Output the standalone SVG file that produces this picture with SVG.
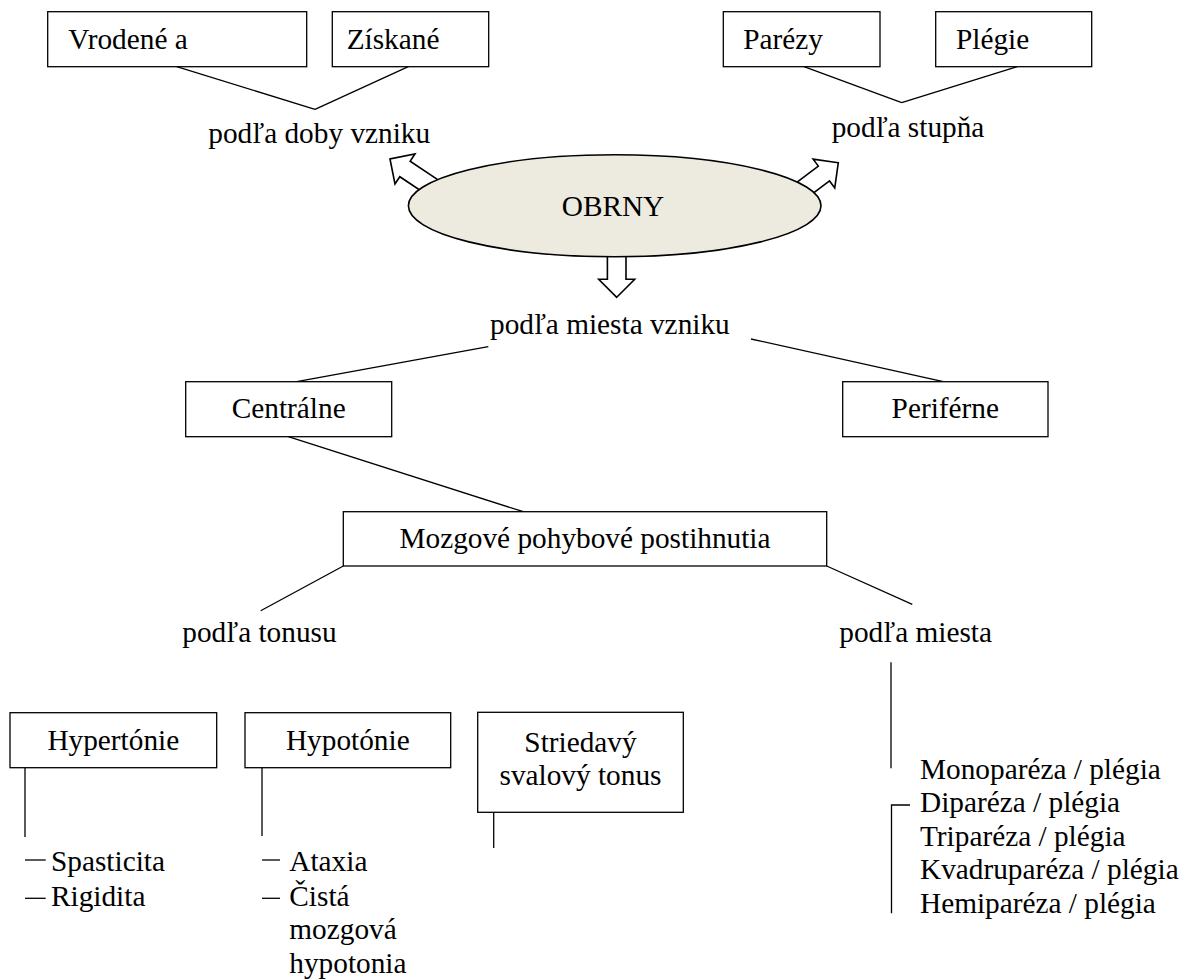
<svg xmlns="http://www.w3.org/2000/svg" xmlns:xlink="http://www.w3.org/1999/xlink" width="1182" height="979" viewBox="0 0 1182 979">
<style>
  text { font-family: "Liberation Serif", "Times New Roman", serif; font-size: 29.3px; fill: #000; }
  .c { text-anchor: middle; }
  .box { fill: #fff; stroke: #000; stroke-width: 1.3; }
  .ln { stroke: #000; stroke-width: 1.3; fill: none; }
  .arr { fill: #fff; stroke: #000; stroke-width: 1.6; stroke-linejoin: miter; }
  .ell { fill: #EDEBE0; stroke: #000; stroke-width: 1.6; }
</style>
<defs>
  <polygon id="blockArrow" points="0,0 -18,-18 -18,-9.3 -62,-9.3 -62,9.3 -18,9.3 -18,18"/>
</defs>
<rect width="1182" height="979" fill="#fff"/>

<g id="connectors">
  <use xlink:href="#blockArrow" class="arr" transform="translate(390,159) rotate(213.7)"/>
  <use xlink:href="#blockArrow" class="arr" transform="translate(838.3,162.7) rotate(-37)"/>
  <use xlink:href="#blockArrow" class="arr" transform="translate(616.7,297.3) rotate(90)"/>
  <line class="ln" x1="176.7" y1="66.7" x2="315" y2="109.3"/>
  <line class="ln" x1="408.3" y1="66.7" x2="315" y2="109.3"/>
  <line class="ln" x1="804" y1="66.7" x2="901.7" y2="102.7"/>
  <line class="ln" x1="1017.3" y1="66.7" x2="901.7" y2="102.7"/>
  <line class="ln" x1="296.7" y1="381.7" x2="488.3" y2="346.7"/>
  <line class="ln" x1="751" y1="339" x2="943.3" y2="381.7"/>
  <line class="ln" x1="288.3" y1="436.7" x2="523.3" y2="511.7"/>
  <line class="ln" x1="343.3" y1="566" x2="260.7" y2="610.7"/>
  <line class="ln" x1="826.7" y1="566" x2="912.3" y2="604.3"/>
  <line class="ln" x1="891" y1="662.3" x2="891" y2="768.3"/>
  <polyline class="ln" points="910,805 891.5,805 891.5,913.3"/>
  <line class="ln" x1="25" y1="767.7" x2="25" y2="837"/>
  <line class="ln" x1="25" y1="860" x2="45.7" y2="860"/>
  <line class="ln" x1="25" y1="898.3" x2="45.7" y2="898.3"/>
  <line class="ln" x1="262" y1="767.7" x2="262" y2="836"/>
  <line class="ln" x1="262" y1="860" x2="280" y2="860"/>
  <line class="ln" x1="262" y1="898.3" x2="280" y2="898.3"/>
  <line class="ln" x1="493.7" y1="812.3" x2="493.7" y2="848"/>
</g>

<g id="node-obrny">
  <ellipse class="ell" cx="614.7" cy="205.8" rx="206.3" ry="51"/>
  <text class="c" x="613" y="215.5">OBRNY</text>
</g>
<g id="node-vrodene">
  <rect class="box" x="47.7" y="11.7" width="259" height="55"/>
  <text x="68.3" y="49.3">Vrodené a</text>
</g>
<g id="node-ziskane">
  <rect class="box" x="332.3" y="11.7" width="156.4" height="55"/>
  <text x="346.7" y="49.3">Získané</text>
</g>
<g id="node-parezy">
  <rect class="box" x="723.3" y="11.7" width="156.7" height="55"/>
  <text x="743.3" y="49.3">Parézy</text>
</g>
<g id="node-plegie">
  <rect class="box" x="935.7" y="11.7" width="156" height="55"/>
  <text x="956" y="49.3">Plégie</text>
</g>
<g id="label-doby">
  <text x="208.3" y="142.7">podľa doby vzniku</text>
</g>
<g id="label-stupna">
  <text x="831.7" y="137.3">podľa stupňa</text>
</g>
<g id="label-miesta-vzniku">
  <text x="490" y="334.3">podľa miesta vzniku</text>
</g>
<g id="node-centralne">
  <rect class="box" x="185.7" y="381.7" width="206" height="55"/>
  <text class="c" x="288.7" y="418.3">Centrálne</text>
</g>
<g id="node-periferne">
  <rect class="box" x="842.7" y="381.7" width="205.3" height="55"/>
  <text class="c" x="945.3" y="418.3">Periférne</text>
</g>
<g id="node-mozgove">
  <rect class="box" x="343.3" y="511.7" width="483.4" height="54.3"/>
  <text class="c" x="585" y="548.3">Mozgové pohybové postihnutia</text>
</g>
<g id="label-tonusu">
  <text x="182.3" y="642.3">podľa tonusu</text>
</g>
<g id="label-miesta">
  <text x="839.3" y="642.3">podľa miesta</text>
</g>
<g id="node-hypertonie">
  <rect class="box" x="10" y="712.7" width="206.7" height="55"/>
  <text class="c" x="113.3" y="750">Hypertónie</text>
</g>
<g id="node-hypotonie">
  <rect class="box" x="245" y="712.7" width="205.7" height="55"/>
  <text class="c" x="347.8" y="750">Hypotónie</text>
</g>
<g id="node-striedavy">
  <rect class="box" x="477.7" y="712.3" width="205.6" height="100"/>
  <text class="c" x="580.5" y="752">Striedavý</text>
  <text class="c" x="580.5" y="785">svalový tonus</text>
</g>
<g id="list-hypertonie">
  <text x="51" y="870.7">Spasticita</text>
  <text x="51" y="905.7">Rigidita</text>
</g>
<g id="list-hypotonie">
  <text x="289.3" y="870.7">Ataxia</text>
  <text x="289.3" y="905.7">Čistá</text>
  <text x="289.3" y="938.7">mozgová</text>
  <text x="289.3" y="973">hypotonia</text>
</g>
<g id="list-miesta">
  <text x="920" y="779">Monoparéza / plégia</text>
  <text x="920" y="812">Diparéza / plégia</text>
  <text x="920" y="845.7">Triparéza / plégia</text>
  <text x="920" y="879">Kvadruparéza / plégia</text>
  <text x="920" y="913">Hemiparéza / plégia</text>
</g>
</svg>
